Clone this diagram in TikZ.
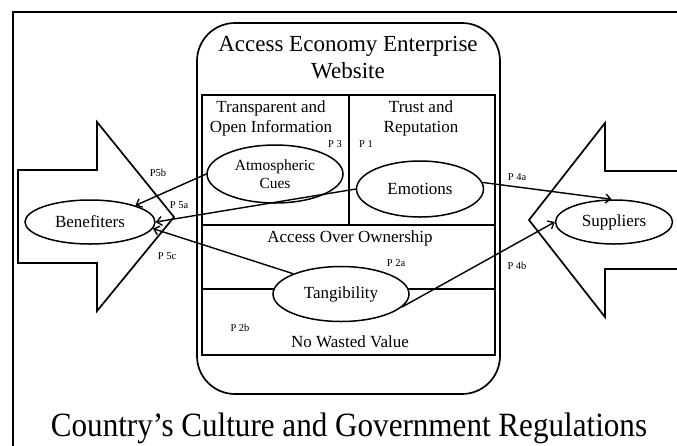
\documentclass[tikz,border=0pt]{standalone}
\usepackage{fontspec}
\setmainfont{Liberation Serif}
\usepackage{tikz}
\usetikzlibrary{shapes.geometric,arrows.meta}

\begin{document}
\begin{tikzpicture}[x=1pt,y=-1pt,
        frame/.style={line width=1.7pt},
        idea/.style={ellipse,draw,line width=1.5pt,fill=white,inner sep=0pt,align=center,font=\fontsize{17}{19}\selectfont},
        panel/.style={align=center,font=\fontsize{17}{20}\selectfont},
        plabel/.style={font=\fontsize{10.5}{12}\selectfont},
        link/.style={-{Straight Barb[length=5pt,width=9pt]},line width=1.4pt}]
    \useasboundingbox (0,0) rectangle (677,445);
    \clip (0,0) rectangle (677,445);

    % Outer frame
    \draw[frame] (13,12) rectangle (720,480);

    % block arrows
    \draw[frame] (18,170)--(97,170)--(97,122)--(174,217)--(97,311)--(97,263)--(18,263)--cycle;
    \draw[frame] (720,171)--(605,171)--(605,123)--(529,220)--(605,317)--(605,269)--(720,269);

    % website box
    \draw[frame, rounded corners=38pt] (197,23) rectangle (500,394);
    \node[font=\fontsize{23}{27}\selectfont, align=center] (title) at (348,58) {Access Economy Enterprise\\Website};
    \draw[frame] (202,95) rectangle (495,355);
    \draw[frame] (349,95)--(349,225);
    \draw[frame] (202,225)--(495,225);
    \draw[frame] (202,289)--(495,289);

    % panel texts
    \node[panel] (transp) at (271,118) {Transparent and\\Open Information};
    \node[panel] (trust) at (421,118) {Trust and\\Reputation};
    \node[panel] (access) at (350,238) {Access Over Ownership};
    \node[panel] (wasted) at (350,342) {No Wasted Value};

    % ellipses
    \node[idea, minimum width=136pt, minimum height=58pt, font=\fontsize{15.5}{18}\selectfont] (atmos) at (275,174) {Atmospheric\\Cues};
    \node[idea, minimum width=127pt, minimum height=56pt] (emotions) at (420,189) {Emotions};
    \node[idea, minimum width=136pt, minimum height=55pt] (tang) at (341,294) {Tangibility};
    \node[idea, minimum width=130pt, minimum height=44pt] (benef) at (90,222) {Benefiters};
    \node[idea, minimum width=117pt, minimum height=44pt] (suppl) at (614,222) {Suppliers};

    % links
    \draw[link] (atmos.west)--(benef.20);
    \draw[link] (emotions.west)--(benef.east);
    \draw[link] (tang.157)--(benef.-6);
    \draw[link] (emotions.6)--(suppl.96);
    \draw[link] (tang.-12)--(suppl.west);

    % propositions
    \node[plabel] (p5b) at (158,173) {P5b};
    \node[plabel] (p5a) at (179,205) {P 5a};
    \node[plabel] (p5c) at (167,256) {P 5c};
    \node[plabel] (p3) at (335,144) {P 3};
    \node[plabel] (p1) at (366,144) {P 1};
    \node[plabel] (p4a) at (517,177) {P 4a};
    \node[plabel] (p4b) at (517,266) {P 4b};
    \node[plabel] (p2a) at (396,263) {P 2a};
    \node[plabel] (p2b) at (240,328) {P 2b};

    % environment
    \node[font=\fontsize{34}{40}\selectfont, xscale=0.915] (country) at (349,428) {Country’s Culture and Government Regulations};
\end{tikzpicture}
\end{document}
